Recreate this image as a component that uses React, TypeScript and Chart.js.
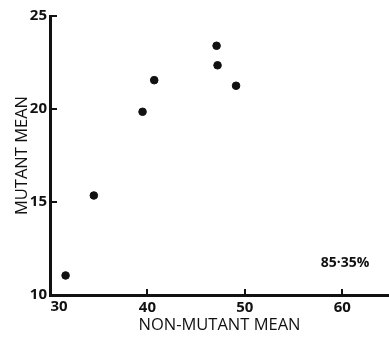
import React, { useEffect, useRef } from "react";
import { Chart, registerables } from "chart.js";

Chart.register(...registerables);

const nonMutantMean = [31.6, 34.5, 39.5, 40.7, 47.1, 47.2, 49.1];
const mutantMean = [11.05, 15.35, 19.85, 21.55, 23.4, 22.35, 21.25];
const xTicks = [30, 40, 50, 60];
const yTicks = [10, 15, 20, 25];
const xTitle = "NON-MUTANT MEAN";
const yTitle = "MUTANT MEAN";
const noteText = "85·35%";
const noteX = 60.3;
const noteY = 11.7;

const X_MIN = 30;
const X_MAX = 64.8;
const Y_MIN = 10;
const Y_MAX = 25;

const INK = "#111";
const FONT = "'Open Sans', 'DejaVu Sans', sans-serif";
const TICK_FONT = { family: FONT, size: 15, weight: "bold" as const };

const innerTicks = {
  id: "innerTicks",
  afterDraw(chart: any) {
    const { ctx, scales, chartArea } = chart;
    const x = scales.x;
    const y = scales.y;
    ctx.save();
    ctx.strokeStyle = INK;
    ctx.lineWidth = 2;
    for (const v of yTicks) {
      if (v === Y_MIN) continue;
      const py = Math.round(y.getPixelForValue(v));
      ctx.beginPath();
      ctx.moveTo(chartArea.left, py);
      ctx.lineTo(chartArea.left + 7, py);
      ctx.stroke();
    }
    for (const v of xTicks) {
      if (v === X_MIN) continue;
      const px = Math.round(x.getPixelForValue(v));
      ctx.beginPath();
      ctx.moveTo(px, chartArea.bottom);
      ctx.lineTo(px, chartArea.bottom - 6);
      ctx.stroke();
    }
    ctx.fillStyle = INK;
    // first x label sits just right of the corner, as in the original figure
    ctx.font = `bold ${TICK_FONT.size}px ${FONT}`;
    ctx.textAlign = "center";
    ctx.textBaseline = "top";
    ctx.fillText(String(xTicks[0]), x.getPixelForValue(xTicks[0]) + 9, chartArea.bottom + 4);
    ctx.font = `bold 14px ${FONT}`;
    ctx.textBaseline = "middle";
    ctx.fillText(noteText, x.getPixelForValue(noteX), y.getPixelForValue(noteY));
    ctx.restore();
  },
};

export default function App() {
  const ref = useRef<HTMLCanvasElement>(null);
  useEffect(() => {
    document.body.style.margin = "0";
    document.body.style.background = "#fff";
    const chart = new Chart(ref.current as HTMLCanvasElement, {
      type: "scatter",
      data: {
        datasets: [
          {
            data: nonMutantMean.map((v, i) => ({ x: v, y: mutantMean[i] })),
            backgroundColor: INK,
            borderColor: INK,
            pointRadius: 3.8,
            pointHoverRadius: 3.8,
          },
        ],
      },
      options: {
        animation: false,
        responsive: false,
        maintainAspectRatio: false,
        layout: { autoPadding: false, padding: { top: 16, right: 0, left: 0, bottom: 0 } },
        plugins: { legend: { display: false }, tooltip: { enabled: false } },
        scales: {
          x: {
            type: "linear",
            min: X_MIN,
            max: X_MAX,
            afterBuildTicks: (s: any) => {
              s.ticks = xTicks.map((v) => ({ value: v }));
            },
            afterFit: (s: any) => {
              s.height = 42;
            },
            grid: { display: false, drawTicks: false },
            border: { display: true, width: 3, color: INK },
            ticks: {
              color: INK,
              font: TICK_FONT,
              padding: 4,
              maxRotation: 0,
              callback: (v: any) => (v === X_MIN ? "" : String(v)),
            },
            title: {
              display: true,
              text: xTitle,
              color: INK,
              font: { family: FONT, size: 16.5 },
              padding: { top: 0, bottom: 2 },
            },
          },
          y: {
            type: "linear",
            min: Y_MIN,
            max: Y_MAX,
            afterBuildTicks: (s: any) => {
              s.ticks = yTicks.map((v) => ({ value: v }));
            },
            afterFit: (s: any) => {
              s.width = 50;
            },
            grid: { display: false, drawTicks: false },
            border: { display: true, width: 3, color: INK },
            ticks: {
              color: INK,
              font: TICK_FONT,
              padding: 3,
            },
            title: {
              display: true,
              text: yTitle,
              color: INK,
              font: { family: FONT, size: 16.5 },
              padding: { top: 12, bottom: 0 },
            },
          },
        },
      },
      plugins: [innerTicks],
    } as any);
    return () => chart.destroy();
  }, []);
  return <canvas ref={ref} width={389} height={337} style={{ display: "block" }} />;
}
